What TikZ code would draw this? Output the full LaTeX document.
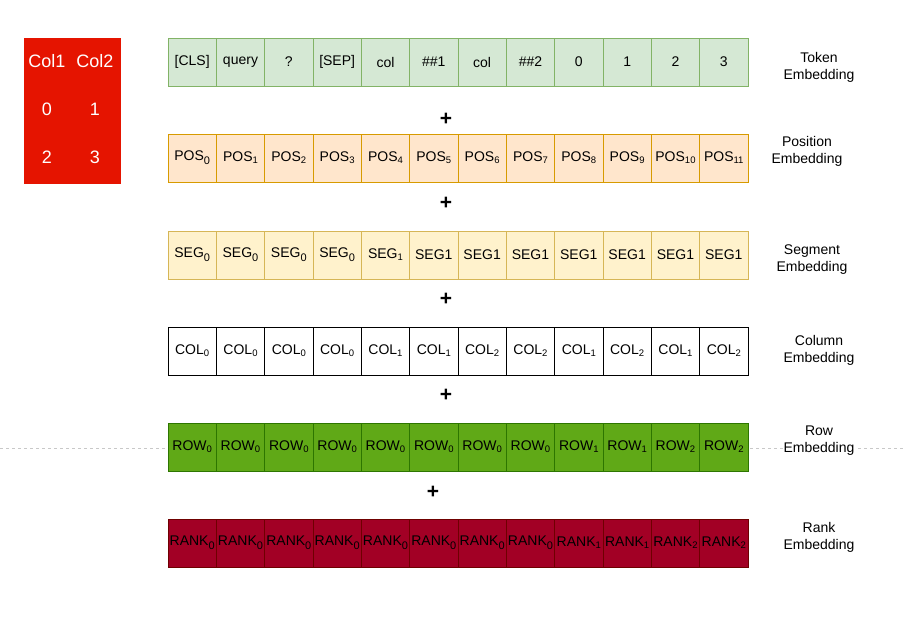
\documentclass[tikz,border=0pt]{standalone}
\usepackage{fontspec}
\setmainfont{Liberation Sans}
\usetikzlibrary{positioning}

\definecolor{tokfill}{HTML}{D5E8D4}
\definecolor{tokline}{HTML}{82B366}
\definecolor{posfill}{HTML}{FFE6CC}
\definecolor{posline}{HTML}{D79B00}
\definecolor{segfill}{HTML}{FFF2CC}
\definecolor{segline}{HTML}{D6B656}
\definecolor{rowfill}{HTML}{60A917}
\definecolor{rowline}{HTML}{2D7600}
\definecolor{rankfill}{HTML}{A20025}
\definecolor{rankline}{HTML}{6F0000}
\definecolor{tabfill}{HTML}{E51400}
\definecolor{tabline}{HTML}{E51400}
\definecolor{dotgray}{HTML}{C8C8C8}

\newcommand{\lsub}[1]{\raisebox{-0.55ex}{\fontsize{11}{11}\selectfont #1}}
\newcommand{\usub}[1]{\raisebox{-0.25ex}{\fontsize{9.5}{9.5}\selectfont #1}}

\begin{document}
\begin{tikzpicture}[
    x=1pt, y=-1pt,
    cell/.style={draw, minimum width=48.33pt, minimum height=48pt, inner sep=0pt, font=\fontsize{14}{16}\selectfont},
    tokcell/.style={cell, fill=tokfill, draw=tokline},
    poscell/.style={cell, fill=posfill, draw=posline},
    segcell/.style={cell, fill=segfill, draw=segline},
    colcell/.style={cell, fill=white, draw=black},
    rowcell/.style={cell, fill=rowfill, draw=rowline},
    rankcell/.style={cell, fill=rankfill, draw=rankline},
    embname/.style={align=center, font=\fontsize{14}{17}\selectfont},
    plus/.style={font=\fontsize{21}{21}\selectfont\bfseries},
    tabtext/.style={text=white, font=\fontsize{18}{18}\selectfont},
    gridline/.style={draw=dotgray, line width=1pt, dash pattern=on 3pt off 3pt}
]
\useasboundingbox (0,0) rectangle (904,640);

% --- Dotted guide line behind the row embedding ---
\coordinate (lineL) at (0,448);
\coordinate (lineR) at (904,448);
\draw[gridline] (lineL) -- (lineR);

% --- Small table ---
\node[draw=tabline, fill=tabfill, minimum width=96pt, minimum height=145pt] (tab) at (72,110.5) {};
\node[tabtext] (hd1) at (47,61) {Col1};
\node[tabtext] (hd2) at (95,61) {Col2};
\node[tabtext] (v0) at (47,109) {0};
\node[tabtext] (v1) at (95,109) {1};
\node[tabtext] (v2) at (47,157) {2};
\node[tabtext] (v3) at (95,157) {3};

% --- Token embedding ---
\foreach \t [count=\i] in {[CLS],query,?,[SEP],col,\#\#1,col,\#\#2,0,1,2,3}
  \node[tokcell] (tok\i) at ({168+(\i-0.5)*48.33},62) {\t};

% --- Position embedding ---
\foreach \t [count=\i] in {POS\lsub{0},POS\usub{1},POS\usub{2},POS\usub{3},POS\usub{4},POS\usub{5},POS\usub{6},POS\usub{7},POS\usub{8},POS\usub{9},POS\usub{10},POS\usub{11}}
  \node[poscell] (pos\i) at ({168+(\i-0.5)*48.33},158) {\t};

% --- Segment embedding ---
\foreach \t [count=\i] in {SEG\lsub{0},SEG\lsub{0},SEG\lsub{0},SEG\lsub{0},SEG\usub{1},SEG1,SEG1,SEG1,SEG1,SEG1,SEG1,SEG1}
  \node[segcell] (seg\i) at ({168+(\i-0.5)*48.33},255) {\t};

% --- Column embedding ---
\foreach \t [count=\i] in {COL\usub{0},COL\usub{0},COL\usub{0},COL\usub{0},COL\usub{1},COL\usub{1},COL\usub{2},COL\usub{2},COL\usub{1},COL\usub{2},COL\usub{1},COL\usub{2}}
  \node[colcell] (col\i) at ({168+(\i-0.5)*48.33},351) {\t};

% --- Row embedding ---
\foreach \t [count=\i] in {ROW\usub{0},ROW\usub{0},ROW\usub{0},ROW\usub{0},ROW\usub{0},ROW\usub{0},ROW\usub{0},ROW\usub{0},ROW\usub{1},ROW\usub{1},ROW\usub{2},ROW\usub{2}}
  \node[rowcell] (row\i) at ({168+(\i-0.5)*48.33},447) {\t};

% --- Rank embedding ---
\foreach \t [count=\i] in {RANK\lsub{0},RANK\lsub{0},RANK\lsub{0},RANK\lsub{0},RANK\lsub{0},RANK\lsub{0},RANK\lsub{0},RANK\lsub{0},RANK\usub{1},RANK\usub{1},RANK\usub{2},RANK\usub{2}}
  \node[rankcell] (rank\i) at ({168+(\i-0.5)*48.33},543) {\t};

% --- Plus signs ---
\node[plus] (plus1) at (446,119) {+};
\node[plus] (plus2) at (446,203) {+};
\node[plus] (plus3) at (446,299) {+};
\node[plus] (plus4) at (446,395) {+};
\node[plus] (plus5) at (433,492) {+};

% --- Embedding names ---
\node[embname] (tokname) at (819,67) {Token\\Embedding};
\node[embname] (posname) at (807,151) {Position\\Embedding};
\node[embname] (segname) at (812,260) {Segment\\Embedding};
\node[embname] (colname) at (819,350) {Column\\Embedding};
\node[embname, fill=white, inner sep=1pt] (rowname) at (819,441) {Row\\Embedding};
\node[embname] (rankname) at (819,537) {Rank\\Embedding};

\end{tikzpicture}
\end{document}
